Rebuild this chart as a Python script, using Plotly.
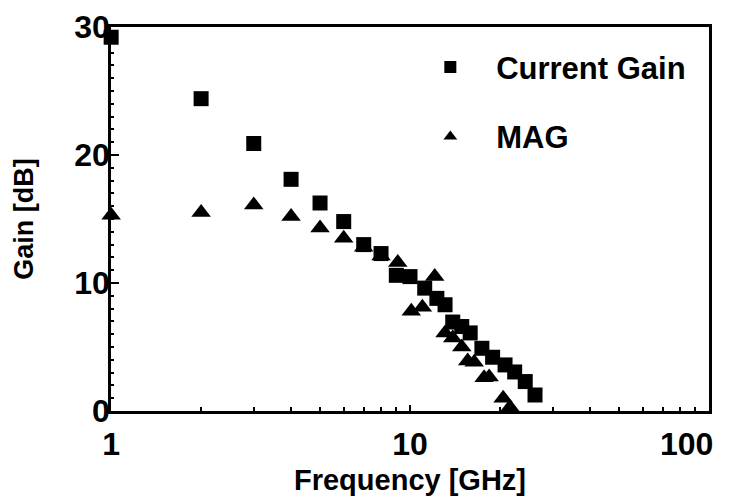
import plotly.graph_objects as go

# Current Gain (squares)
cg_freq = [1.0, 2.0, 3.0, 4.0, 5.0, 6.0, 7.0, 8.0, 9.0, 10.0, 11.2, 12.3, 13.1, 13.9,
           14.9, 15.9, 17.4, 18.9, 20.8, 22.4, 24.3, 26.2]
cg_gain = [29.2, 24.4, 20.9, 18.1, 16.25, 14.8, 13.0, 12.3, 10.6, 10.5, 9.6, 8.8, 8.3, 6.95,
           6.6, 6.1, 4.9, 4.2, 3.6, 3.05, 2.3, 1.25]

# MAG (triangles)
mag_freq = [1.0, 2.0, 3.0, 4.0, 5.0, 6.0, 7.0, 8.0, 9.1, 10.1, 11.0, 12.1, 13.1, 13.9,
            14.9, 15.6, 16.4, 17.7, 18.4, 20.5, 21.6]
mag_gain = [15.3, 15.5, 16.1, 15.2, 14.3, 13.5, 12.8, 12.1, 11.6, 7.8, 8.1, 10.5, 6.1, 5.7,
            5.0, 3.9, 3.8, 2.6, 2.65, 1.0, 0.3]

x_tickvals = [1, 10, 100]
x_ticktext = ["1", "10", "100\u00a0\u00a0\u00a0\u00a0\u00a0"]
x_minor = [2, 3, 4, 5, 6, 7, 8, 9, 20, 30, 40, 50, 60, 70, 80, 90]
y_tickvals = [0, 10, 20, 30]

FONT = "Liberation Sans, Arial, Helvetica, sans-serif"
NB = "\u00a0\u00a0\u00a0"

fig = go.Figure()
fig.add_trace(go.Scatter(
    x=cg_freq, y=cg_gain, mode="markers", name=NB + "Current Gain",
    legendgroup="a",
    marker=dict(symbol="square", size=15, color="black"),
    cliponaxis=False,
))
fig.add_trace(go.Scatter(
    x=mag_freq, y=mag_gain, mode="markers", name=NB + "MAG",
    legendgroup="b",
    marker=dict(symbol="triangle-up", size=17, color="black"),
    cliponaxis=False,
))

# the page body adds an 8px margin at left/top, so the figure is sized to fit the window
fig.update_layout(
    template="none",
    width=727, height=493,
    margin=dict(l=103, r=26, t=19, b=90, autoexpand=False),
    paper_bgcolor="white", plot_bgcolor="white",
    font=dict(family=FONT, color="black", size=30, weight="bold"),
    showlegend=True,
    legend=dict(
        x=0.534, y=0.965, xanchor="left", yanchor="top",
        bgcolor="rgba(0,0,0,0)", borderwidth=0,
        font=dict(size=31, family=FONT, weight="bold"),
        tracegroupgap=26, itemsizing="constant",
    ),
    xaxis=dict(
        type="log", range=[-0.0005, 2.0005], automargin=False,
        tickvals=x_tickvals, ticktext=x_ticktext,
        ticklabeloverflow="allow",
        ticks="inside", ticklen=6, tickwidth=2, tickcolor="black",
        minor=dict(tickvals=x_minor, ticks="inside", ticklen=4, tickwidth=1.5, tickcolor="black"),
        showline=True, linewidth=2.5, linecolor="black", mirror=True,
        showgrid=False, zeroline=False,
        tickfont=dict(size=32, family=FONT, weight="bold"),
        ticklabelstandoff=3,
        title=dict(text="Frequency [GHz]", font=dict(size=29, family=FONT, weight="bold"), standoff=9),
    ),
    yaxis=dict(
        range=[0, 30], automargin=False,
        tickvals=y_tickvals,
        ticks="inside", ticklen=8, tickwidth=2, tickcolor="black",
        minor=dict(dtick=1, ticks="inside", ticklen=3, tickwidth=1.5, tickcolor="black"),
        showline=True, linewidth=2.5, linecolor="black", mirror=True,
        showgrid=False, zeroline=False,
        tickfont=dict(size=32, family=FONT, weight="bold"),
        ticklabelstandoff=-8,
        title=dict(text="Gain [dB]", font=dict(size=27, family=FONT, weight="bold"), standoff=33),
    ),
)

fig.write_html("out.html")
